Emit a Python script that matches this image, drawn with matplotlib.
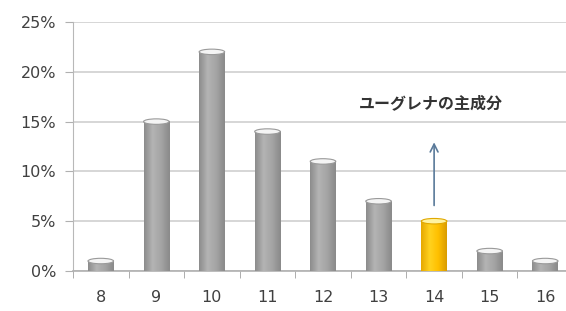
import matplotlib
matplotlib.use("Agg")
import matplotlib.pyplot as plt
import numpy as np
from matplotlib.patches import Ellipse
from matplotlib.colors import LinearSegmentedColormap

plt.rcParams['font.family'] = ['DejaVu Sans', 'Noto Sans CJK JP']

categories = ['8', '9', '10', '11', '12', '13', '14', '15', '16']
values = [1, 15, 22, 14, 11, 7, 5, 2, 1]
highlight = '14'
yticks = [0, 5, 10, 15, 20, 25]
ytick_labels = ['0%', '5%', '10%', '15%', '20%', '25%']
annotation = 'ユーグレナの主成分'

fig = plt.figure(figsize=(5.66, 3.11), dpi=100)
ax = fig.add_axes([73/566, 40/311, 500/566, 249/311])

n = len(categories)
x = np.arange(n)
bw = 0.46

gray_cmap = LinearSegmentedColormap.from_list('g', ['#8c8c8c', '#b4b4b4', '#a4a4a4', '#8a8a8a'])
gold_cmap = LinearSegmentedColormap.from_list('y', ['#e6a800', '#ffd21f', '#ffc000', '#d99c00'])
grad = np.linspace(0, 1, 64).reshape(1, -1)

for xi, v, c in zip(x, values, categories):
    cmap = gold_cmap if c == highlight else gray_cmap
    ax.imshow(grad, cmap=cmap, aspect='auto', extent=[xi - bw/2, xi + bw/2, 0, v],
              zorder=3, interpolation='bilinear')
    top_face = '#fff3a0' if c == highlight else '#f4f4f4'
    top_edge = '#e0a800' if c == highlight else '#9a9a9a'
    ax.add_patch(Ellipse((xi, v), bw, 0.55, facecolor=top_face, edgecolor=top_edge,
                         linewidth=0.8, zorder=4))

ax.set_xlim(-0.5, n - 0.5)
ax.set_ylim(0, 25)
ax.set_yticks(yticks)
ax.set_yticklabels(ytick_labels)
ax.set_xticks(x)
ax.set_xticklabels(categories)
ax.set_xticks(np.arange(-0.5, n, 1), minor=True)
ax.tick_params(axis='x', which='major', length=0, pad=14, labelsize=11.5, labelcolor='#404040')
ax.tick_params(axis='x', which='minor', length=5, color='#a0a0a0', direction='out')
ax.tick_params(axis='y', length=6, color='#b0b0b0', labelsize=11.5, labelcolor='#404040', pad=6)
ax.yaxis.grid(True, color='#d0d0d0', linewidth=1.2, zorder=0)
ax.set_axisbelow(True)
for s in ['top', 'right']:
    ax.spines[s].set_visible(False)
ax.spines['left'].set_color('#b8b8b8')
ax.spines['bottom'].set_color('#b0b0b0')
ax.spines['bottom'].set_linewidth(1.2)

hi = categories.index(highlight)
ax.annotate('', xy=(hi, 13.2), xytext=(hi, 6.3),
            arrowprops=dict(arrowstyle='->', color='#5a7a9a', lw=1.2, mutation_scale=14), zorder=5)
ax.text(hi - 0.05, 16.8, annotation, ha='center', va='center', fontsize=11.5,
        fontweight='bold', color='#333333', zorder=5, family=['Noto Sans CJK JP', 'DejaVu Sans'])

fig.savefig('out.png', dpi=100)
